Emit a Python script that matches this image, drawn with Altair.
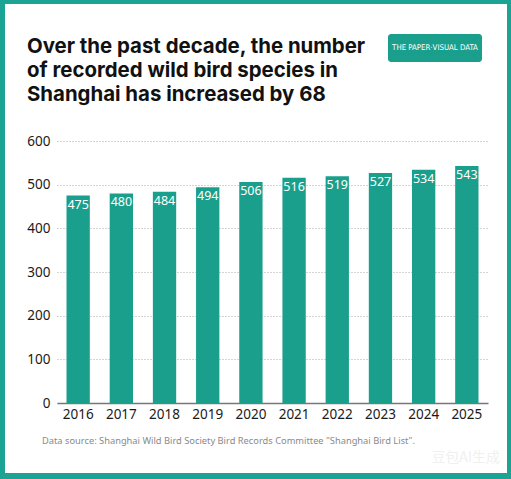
import altair as alt
import pandas as pd

# Recorded wild bird species in Shanghai, by year
years = ["2016", "2017", "2018", "2019", "2020", "2021", "2022", "2023", "2024", "2025"]
species = [475, 480, 484, 494, 506, 516, 519, 527, 534, 543]

title_lines = [
    "Over the past decade, the number",
    "of recorded wild bird species in",
    "Shanghai has increased by 68",
]
badge_text = "THE PAPER·VISUAL DATA"
source_note = 'Data source:  Shanghai Wild Bird Society Bird Records Committee "Shanghai Bird List".'
watermark = "豆包AI生成"

TEAL = "#1a9f8c"
FRAME = "#1ba393"
W, H = 431, 262

df = pd.DataFrame({"year": years, "species": species})
one = pd.DataFrame({"k": [0]})

bars = alt.Chart(df).mark_bar(color=TEAL).encode(
    x=alt.X(
        "year:N",
        sort=years,
        scale=alt.Scale(paddingInner=0.46, paddingOuter=0.22),
        axis=alt.Axis(
            title=None, labelAngle=0, ticks=False, labelFontSize=13.5,
            labelColor="#1a1a1a", labelPadding=4, domainColor="#777777",
            domainWidth=1.5, labelFont="Noto Sans",
        ),
    ),
    y=alt.Y(
        "species:Q",
        scale=alt.Scale(domain=[0, 600]),
        axis=alt.Axis(
            title=None, values=[0, 100, 200, 300, 400, 500, 600], ticks=False,
            domain=False, labelFontSize=13.5, labelColor="#1a1a1a",
            labelPadding=7, gridColor="#a8a8a8", gridDash=[1, 2],
            gridWidth=1, labelFont="Noto Sans",
        ),
    ),
)

labels = alt.Chart(df).mark_text(
    color="white", fontSize=12.5, baseline="top", dy=3, font="Noto Sans"
).encode(
    x=alt.X("year:N", sort=years),
    y="species:Q",
    text="species:Q",
)

layers = [bars, labels]

# Teal frame around the card: top, bottom, left, right
for x1, x2, y1, y2 in [(-57, 454, -141, -137), (-57, 454, 332, 338),
                       (-57, -52, -141, 338), (450, 454, -141, 338)]:
    layers.append(
        alt.Chart(one).mark_rect(color=FRAME).encode(
            x=alt.value(x1), x2=alt.value(x2), y=alt.value(y1), y2=alt.value(y2)
        )
    )

# Headline, three lines
for i, line in enumerate(title_lines):
    layers.append(
        alt.Chart(one).mark_text(
            align="left", baseline="alphabetic", fontSize=20.4, fontWeight="bold",
            font="Inter", color="#111111",
        ).encode(x=alt.value(-30), y=alt.value(-88 + 24 * i), text=alt.value(line))
    )

# Publisher badge
layers.append(
    alt.Chart(one).mark_rect(color=TEAL, cornerRadius=3).encode(
        x=alt.value(331), x2=alt.value(425), y=alt.value(-107), y2=alt.value(-79)
    )
)
layers.append(
    alt.Chart(one).mark_text(
        align="center", baseline="middle", fontSize=7.8, color="white",
        font="DejaVu Sans Condensed, Roboto, sans-serif",
    ).encode(x=alt.value(378), y=alt.value(-93), text=alt.value(badge_text))
)

# Source note
layers.append(
    alt.Chart(one).mark_text(
        align="left", baseline="alphabetic", fontSize=9.3, color="#8a8a8a",
        font="Noto Sans",
    ).encode(x=alt.value(-15), y=alt.value(303), text=alt.value(source_note))
)

# Faint generator mark
layers.append(
    alt.Chart(one).mark_text(
        align="right", baseline="alphabetic", fontSize=14, color="#f0f0f0",
        font="Noto Sans CJK SC",
    ).encode(x=alt.value(443), y=alt.value(321), text=alt.value(watermark))
)

chart = alt.layer(*layers).properties(
    width=W,
    height=H,
    autosize="none",
    padding={"left": 57, "top": 141, "right": 23, "bottom": 76},
    background="white",
).configure_view(stroke=None)

chart.save("out.html", embed_options={"renderer": "svg", "actions": False})
